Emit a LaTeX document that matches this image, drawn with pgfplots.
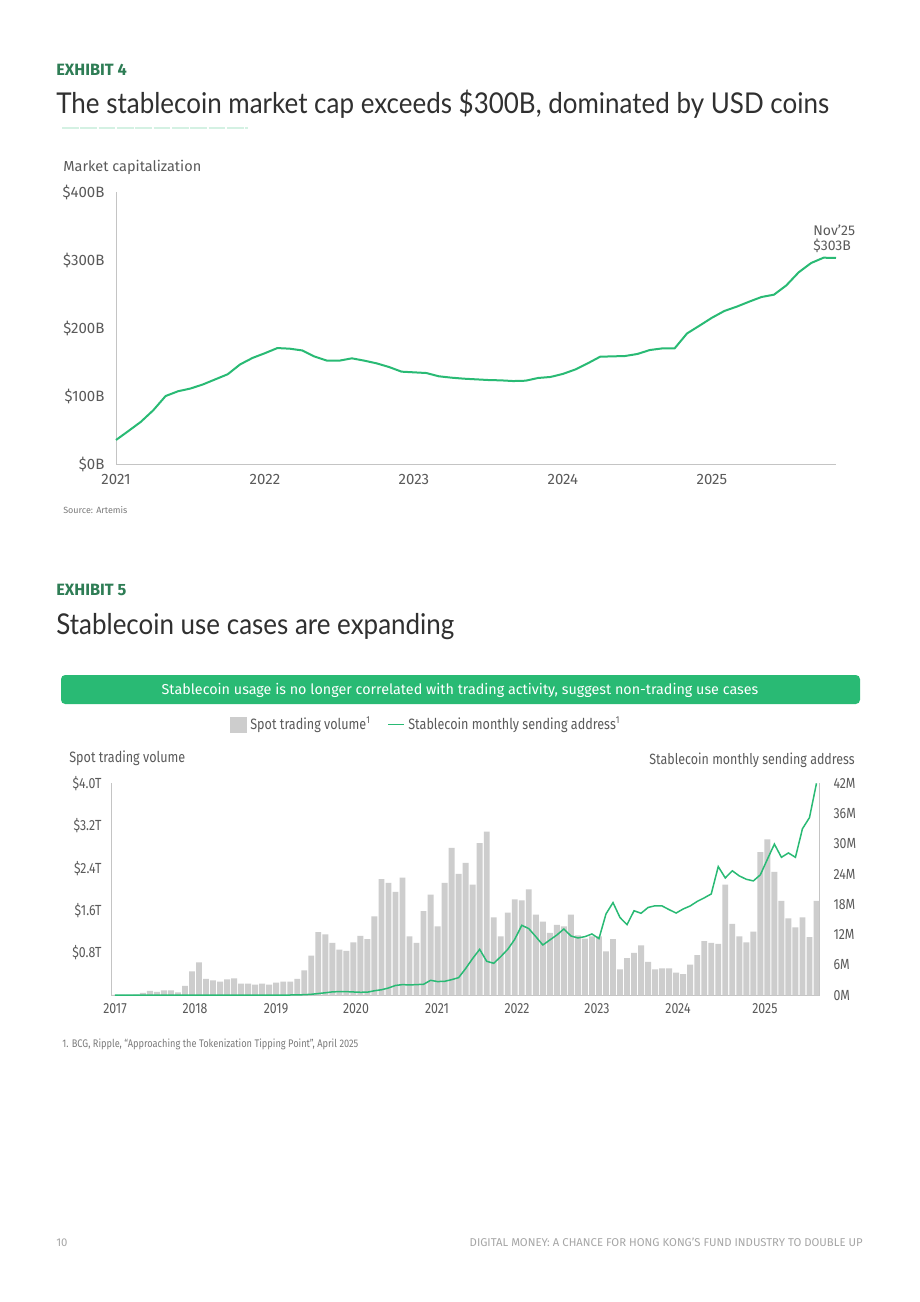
\documentclass[border=0pt]{standalone}
\usepackage{fontspec}
\setmainfont{Fira Sans}
\newfontfamily\cond{Fira Sans}[FakeStretch=0.84]
\newfontfamily\titlef{Lato}[FakeStretch=0.906]
\usepackage{pgfplots}
\usepackage{pgfplotstable}
\pgfplotsset{compat=1.18}
\definecolor{bcggreen}{HTML}{29BA74}
\definecolor{darkgreen}{HTML}{2E7D55}
\definecolor{tickgray}{HTML}{5A5A5A}
\definecolor{bargray}{HTML}{CDCDCD}
\definecolor{axgray}{HTML}{C4C4C4}
\definecolor{titlegray}{HTML}{303030}

\pgfplotstableread{
m cap
0 35.3
1 48.5
2 62
3 79
4 100
5 107
6 111
7 117
8 124.5
9 132
10 146.5
11 156
12 163
13 170.5
14 169.6
15 167
16 158
17 152
18 152
19 155.4
20 152
21 148
22 142.6
23 135.8
24 134.8
25 133.8
26 129
27 127
28 125.5
29 124.5
30 123.5
31 123
32 122
33 122.5
34 126.5
35 128
36 132.5
37 139
38 148
39 157.8
40 158.3
41 158.8
42 161.8
43 167.6
44 170
45 170
46 192
47 203.4
48 215
49 225
50 231.4
51 238.7
52 245.6
53 249
54 262.7
55 282
56 295.6
57 303.4
58 303
}\capdata

\pgfplotstableread{
m vol
0 0.01
1 0.01
2 0.01
3 0.015
4 0.044
5 0.082
6 0.063
7 0.095
8 0.095
9 0.057
10 0.18
11 0.45
12 0.62
13 0.31
14 0.28
15 0.26
16 0.30
17 0.32
18 0.22
19 0.22
20 0.20
21 0.22
22 0.20
23 0.24
24 0.26
25 0.26
26 0.31
27 0.47
28 0.75
29 1.19
30 1.15
31 0.99
32 0.86
33 0.84
34 1.00
35 1.12
36 1.06
37 1.49
38 2.19
39 2.12
40 1.95
41 2.22
42 1.11
43 0.99
44 1.59
45 1.90
46 1.30
47 2.12
48 2.78
49 2.29
50 2.50
51 2.09
52 2.87
53 3.09
54 1.47
55 1.11
56 1.56
57 1.81
58 1.79
59 2.00
60 1.52
61 1.39
62 1.18
63 1.33
64 1.30
65 1.52
66 1.13
67 1.07
68 1.11
69 1.11
70 0.83
71 1.06
72 0.49
73 0.70
74 0.80
75 0.94
76 0.63
77 0.49
78 0.51
79 0.51
80 0.43
81 0.40
82 0.58
83 0.76
84 1.02
85 0.99
86 0.97
87 2.09
88 1.35
89 1.11
90 1.00
91 1.20
92 2.70
93 2.94
94 2.33
95 1.78
96 1.45
97 1.28
98 1.47
99 1.10
100 1.78
}\voldata

\pgfplotstableread{
m addr
0 0.02
1 0.02
2 0.02
3 0.02
4 0.02
5 0.02
6 0.02
7 0.02
8 0.02
9 0.02
10 0.02
11 0.02
12 0.02
13 0.02
14 0.02
15 0.02
16 0.02
17 0.02
18 0.03
19 0.03
20 0.03
21 0.04
22 0.04
23 0.05
24 0.05
25 0.06
26 0.08
27 0.12
28 0.2
29 0.35
30 0.5
31 0.68
32 0.73
33 0.73
34 0.66
35 0.6
36 0.62
37 0.9
38 1.1
39 1.45
40 1.95
41 2.12
42 2.05
43 2.12
44 2.18
45 2.97
46 2.72
47 2.77
48 3.1
49 3.5
50 5.3
51 7.3
52 9.1
53 6.74
54 6.34
55 7.66
56 9.11
57 11.1
58 13.87
59 13.21
60 11.62
61 9.97
62 10.96
63 11.95
64 13.14
65 11.76
66 11.36
67 11.62
68 12.15
69 11.23
70 16.12
71 18.36
72 15.4
73 14.0
74 16.75
75 16.25
76 17.4
77 17.74
78 17.7
79 16.97
80 16.3
81 17.1
82 17.7
83 18.6
84 19.3
85 20.08
86 25.5
87 23.25
88 24.67
89 23.65
90 22.99
91 22.66
92 23.87
93 26.95
94 29.95
95 27.34
96 28.2
97 27.34
98 33.0
99 35.2
100 42.0
}\addrdata

\begin{document}
\begin{tikzpicture}
\begin{scope}[x=0.6pt,y=-0.6pt]
\fill[white] (0,0) rectangle (920,1302);
\path[use as bounding box] (0,0) rectangle (920,1302);
% Exhibit 4 header
\node[anchor=base west, inner sep=0, text=darkgreen, font=\fontsize{9.8}{11}\selectfont\bfseries] at (56,75) {EXHIBIT 4};
\node[anchor=base west, inner sep=0, text=titlegray, font=\titlef\fontsize{17.2}{20}\selectfont] at (56,113) {The stablecoin market cap exceeds \$300B, dominated by USD coins};
\draw[draw=bcggreen!20, line width=1.2pt, dash pattern=on 10pt off 1pt] (62,128) -- (248,128);
\node[anchor=base west, inner sep=0, text=tickgray, font=\fontsize{8.7}{10}\selectfont] at (63,171) {Market capitalization};
\node[anchor=base west, inner sep=0, text=tickgray, font=\fontsize{8.4}{10}\selectfont] at (813,235) {Nov{\char"27}25};
\node[anchor=base west, inner sep=0, text=tickgray, font=\fontsize{8.4}{10}\selectfont] at (813,250) {\$303B};
\node[anchor=base west, inner sep=0, text=tickgray!80, font=\fontsize{5.4}{6}\selectfont] at (63,513) {Source: Artemis};
% Exhibit 5 header
\node[anchor=base west, inner sep=0, text=darkgreen, font=\fontsize{9.8}{11}\selectfont\bfseries] at (56,595) {EXHIBIT 5};
\node[anchor=base west, inner sep=0, text=titlegray, font=\titlef\fontsize{17.2}{20}\selectfont] at (56,634) {Stablecoin use cases are expanding};
\fill[bcggreen, rounded corners=2.5pt] (61,704) -- (61,675) -- (860,675) -- (860,704) -- cycle;
\node[anchor=center, inner sep=0, text=white, font=\fontsize{8.6}{10}\selectfont] at (460,690) {Stablecoin usage is no longer correlated with trading activity, suggest non-trading use cases};
\node[anchor=base west, inner sep=0, text=tickgray, font=\cond\fontsize{9}{10}\selectfont] at (69,762) {Spot trading volume};
\node[anchor=base east, inner sep=0, text=tickgray, font=\cond\fontsize{8.9}{10}\selectfont] at (855,764) {Stablecoin monthly sending address};
\node[anchor=base west, inner sep=0, text=tickgray!80, font=\cond\fontsize{6.6}{7}\selectfont] at (62,1047) {1. BCG, Ripple, “Approaching the Tokenization Tipping Point”, April 2025};
\node[anchor=base west, inner sep=0, text=black!35, font=\fontsize{6.8}{7}\selectfont] at (56,1246) {10};
\node[anchor=base east, inner sep=0, text=black!35, font=\fontsize{6.8}{7}\selectfont] at (863,1246) {DIGITAL MONEY: A CHANCE FOR HONG KONG'S FUND INDUSTRY TO DOUBLE UP};
\end{scope}

% Chart 1
\begin{axis}[
  at={(69.6pt,-278.4pt)}, anchor=south west,
  scale only axis, width=432pt, height=163.2pt,
  xmin=0, xmax=58, ymin=0, ymax=400,
  axis lines=left, axis line style={draw=axgray, -, line width=0.6pt},
  xtick={0,12,24,36,48}, xticklabels={2021,2022,2023,2024,2025},
  ytick={0,100,200,300,400}, yticklabels={\$0B,\$100B,\$200B,\$300B,\$400B},
  major tick length=0pt,
  tick label style={font=\fontsize{9}{10}\selectfont, text=tickgray},
  yticklabel style={xshift=-3.4pt},
  xticklabel style={yshift=-2.7pt},
  clip=false,
]
\addplot[bcggreen, line width=1.2pt, mark=none] table[x=m, y=cap] {\capdata};
\end{axis}

% Chart 2 left axis (bars)
\begin{axis}[
  at={(66.78pt,-597.18pt)}, anchor=south west,
  scale only axis, width=425.22pt, height=127.2pt,
  xmin=-0.5, xmax=100.5, ymin=0, ymax=4.0,
  axis x line*=bottom, axis y line*=left,
  axis line style={draw=axgray, -, line width=0.6pt},
  xtick={0.03,11.43,22.97,34.37,45.92,57.32,68.72,80.26,92.65},
  xticklabels={2017,2018,2019,2020,2021,2022,2023,2024,2025},
  ytick={0.8,1.6,2.4,3.2,4.0},
  yticklabels={\$0.8T,\$1.6T,\$2.4T,\$3.2T,\$4.0T},
  major tick length=0pt,
  tick label style={font=\cond\fontsize{8.8}{10}\selectfont, text=tickgray},
  yticklabel style={xshift=-2.4pt},
  xticklabel style={yshift=-1.5pt},
]
\addplot[ybar, bar width=0.84, fill=bargray, draw=none] table[x=m, y=vol] {\voldata};
\end{axis}

% Chart 2 right axis (line)
\begin{axis}[
  at={(66.78pt,-597.18pt)}, anchor=south west,
  scale only axis, width=425.22pt, height=127.2pt,
  xmin=-0.5, xmax=100.5, ymin=0, ymax=42,
  axis x line=none, axis y line*=right,
  axis line style={draw=axgray, -, line width=0.6pt},
  ytick={0,6,12,18,24,30,36,42},
  yticklabels={0M,6M,12M,18M,24M,30M,36M,42M},
  major tick length=0pt,
  tick label style={font=\cond\fontsize{8.8}{10}\selectfont, text=tickgray},
  yticklabel style={xshift=4.6pt},
  legend style={at={(0.4455,1.277)}, anchor=center, draw=none, fill=none,
    legend columns=2, font=\cond\fontsize{9}{10}\selectfont, text=tickgray,
    /tikz/every even column/.append style={column sep=8pt}},
  clip=false,
]
\addlegendimage{legend image code/.code={\fill[bargray] (0pt,-4.5pt) rectangle (9.6pt,4.5pt);}}
\addlegendentry{Spot trading volume\textsuperscript{1}}
\addplot[bcggreen, line width=0.9pt, mark=none, legend image code/.code={\draw[bcggreen, line width=0.9pt] (0pt,0pt) -- (9.6pt,0pt);}] table[x=m, y=addr] {\addrdata};
\addlegendentry{Stablecoin monthly sending address\textsuperscript{1}}
\end{axis}
\end{tikzpicture}
\end{document}
